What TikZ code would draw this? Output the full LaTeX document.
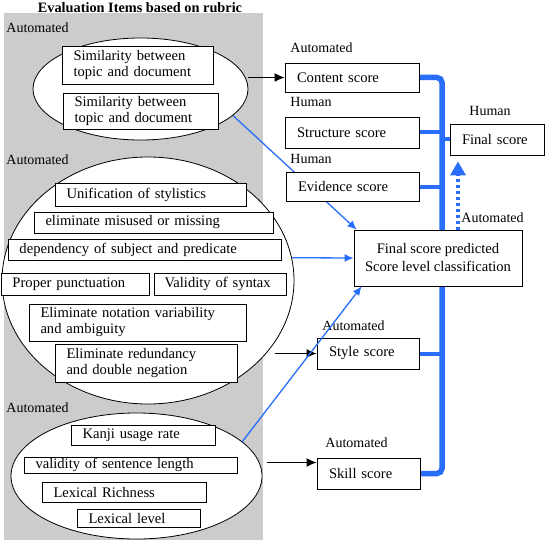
\documentclass[tikz,border=0pt]{standalone}
\usepackage{fontspec}
\setmainfont{Liberation Serif}
\usetikzlibrary{shapes.geometric, arrows.meta, backgrounds}
\definecolor{scoreblue}{RGB}{40,110,250}
\definecolor{panelgray}{RGB}{204,204,204}

\begin{document}
\begin{tikzpicture}[x=1pt, y=-1pt, thick, font=\fontsize{14.6}{16}\selectfont]
        % Define block styles
        \tikzstyle{group} = [ellipse, draw, fill=white, inner sep=0pt]
        \tikzstyle{item} = [rectangle, draw, fill=white, inner xsep=11.5pt, inner ysep=0pt, align=left]
        \tikzstyle{score} = [rectangle, draw, fill=white, inner xsep=12pt, inner ysep=0pt, align=left]
        \tikzstyle{tag} = [anchor=west, inner sep=0pt, font=\fontsize{14}{15}\selectfont]
        \tikzstyle{line} = [draw, line width=1.4pt, -{Latex[length=10pt, width=9pt]}]
        \tikzstyle{blueline} = [draw=scoreblue, line width=1.3pt, -{Latex[length=9pt, width=8pt]}]
        \tikzstyle{bus} = [draw=scoreblue, line width=5.5pt, rounded corners=5pt]
        \tikzstyle{stub} = [draw=scoreblue, line width=4pt]
        \tikzstyle{feedback} = [draw=scoreblue, line width=4pt, dash pattern=on 3pt off 3pt, -{Triangle[length=14pt, width=15pt]}]

        \useasboundingbox (0,0) rectangle (545,540);

        % Title and group labels
        \node [font=\bfseries\fontsize{14.3}{16}\selectfont, inner sep=0pt] (title) at (140,8) {Evaluation Items based on rubric};
        \node [tag] (auto1) at (6,28) {Automated};
        \node [tag] (auto2) at (6,160) {Automated};
        \node [tag] (auto3) at (6,408) {Automated};

        % Define groups of items
        \node [group, minimum width=215pt, minimum height=102pt] (e1) at (140.5,89) {};
        \node [group, minimum width=292pt, minimum height=247pt] (e2) at (148,280.5) {};
        \node [group, minimum width=251pt, minimum height=126pt] (e3) at (136.5,476) {};

        \node [item, text width=128pt, minimum height=38pt] (sim1) at (137.5,65) {Similarity between\\topic and document};
        \node [item, text width=132pt, minimum height=36pt] (sim2) at (140.5,111) {Similarity between\\topic and document};

        \node [item, text width=168pt, minimum height=23pt] (unif) at (150.5,194.5) {Unification of stylistics};
        \node [item, text width=216pt, minimum height=21pt] (misuse) at (153.5,222.5) {eliminate misused or missing};
        \node [item, text width=250pt, minimum height=21pt] (depend) at (144.5,249.5) {dependency of subject and predicate};
        \node [item, text width=125pt, minimum height=22pt] (punct) at (75,284) {Proper punctuation};
        \node [item, text width=111pt, minimum height=22pt, inner xsep=10.5pt] (syntax) at (220,284) {Validity of syntax};
        \node [item, text width=194pt, minimum height=37pt] (notation) at (137.5,322.5) {Eliminate notation variability\\and ambiguity};
        \node [item, text width=159pt, minimum height=38pt] (redund) at (146,363) {Eliminate redundancy\\and double negation};

        \node [item, text width=121pt, minimum height=20pt] (kanji) at (143,435) {Kanji usage rate};
        \node [item, text width=190pt, minimum height=16pt] (sentlen) at (130.5,465) {validity of sentence length};
        \node [item, text width=141pt, minimum height=20pt] (richness) at (124,492) {Lexical Richness};
        \node [item, text width=100pt, minimum height=18pt] (level) at (138.5,518) {Lexical level};

        % Define score nodes
        \node [score, text width=110pt, minimum height=29pt] (content) at (352,77.5) {Content score};
        \node [score, text width=110pt, minimum height=31pt] (structure) at (352,132.5) {Structure score};
        \node [score, text width=109pt, minimum height=29pt] (evidence) at (352.5,186.5) {Evidence score};
        \node [score, text width=70pt, minimum height=31pt] (final) at (497,139.5) {Final score};
        \node [rectangle, draw, fill=white, align=center, inner sep=0pt, minimum width=168pt, minimum height=56pt,
               font=\fontsize{14.6}{18}\selectfont] (predicted) at (438,258) {Final score predicted\\Score level classification};
        \node [score, text width=78pt, minimum height=31pt] (style) at (368,353.5) {Style score};
        \node [score, text width=79pt, minimum height=31pt] (skill) at (368.5,473.5) {Skill score};

        \node [tag] (autocontent) at (290,48) {Automated};
        \node [tag] (humanstructure) at (290,102) {Human};
        \node [tag] (humanevidence) at (290,159) {Human};
        \node [tag] (humanfinal) at (469,111) {Human};
        \node [tag] (autopredicted) at (461,218) {Automated};
        \node [tag] (autostyle) at (322,326) {Automated};
        \node [tag] (autoskill) at (325,443) {Automated};

        % Panel, bus and hidden line behind the nodes
        \coordinate (busend) at (442,473.5);
        \begin{scope}[on background layer]
            \fill [panelgray] (4,13) rectangle (263,540);
            \path [blueline] (e1.-16.5) -- ([xshift=3pt]predicted.north west);
            \path [bus] (content.east) -| (busend) -- (skill.east);
            \path [stub] (structure.east) -- (structure.east -| busend);
            \path [stub] (evidence.east) -- (evidence.east -| busend);
            \path [stub] (style.east) -- (style.east -| busend);
            \path [stub] (final.west) -- (final.west -| busend);
        \end{scope}

        % Connect groups with scores
        \coordinate (skillin) at ([yshift=11pt]skill.west);
        \coordinate (skillfrom) at (e3.east |- skillin);
        \path [line] (content.west -| e1.east) -- (content.west);
        \path [line] (style.west -| e2.-26) -- (style.west);
        \path [line] ([xshift=5pt]skillfrom) -- (skillin);

        \path [blueline] (e2.9) -- (predicted.west);
        \path [blueline] (e3.18) -- ([xshift=8pt]predicted.south west);

        \coordinate (fbtop) at ([xshift=-39pt]final.south);
        \path [feedback, shorten >=6pt] (predicted.north -| fbtop) -- (fbtop);

    \end{tikzpicture}
\end{document}
